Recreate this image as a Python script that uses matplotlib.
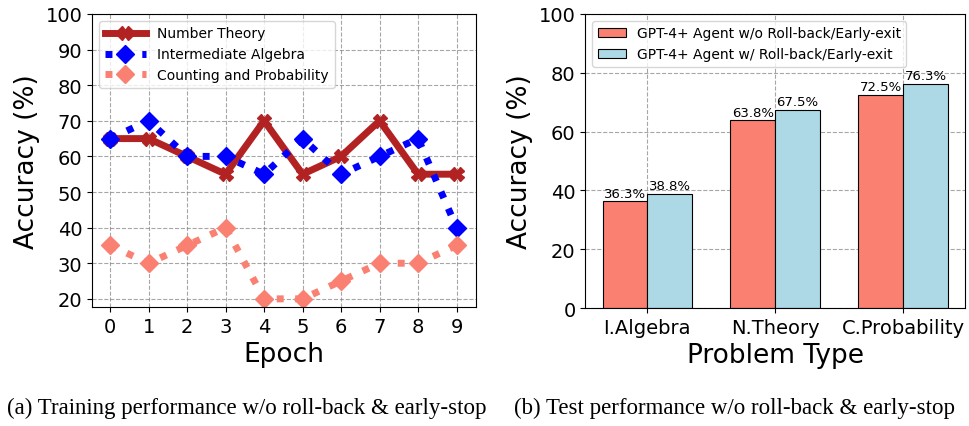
import numpy as np
import matplotlib.pyplot as plt

epochs = list(range(10))
number_theory = [65, 65, 60, 55, 70, 55, 60, 70, 55, 55]
intermediate_algebra = [65, 70, 60, 60, 55, 65, 55, 60, 65, 40]
counting_probability = [35, 30, 35, 40, 20, 20, 25, 30, 30, 35]

problem_types = ["I.Algebra", "N.Theory", "C.Probability"]
without_rollback = [36.3, 63.8, 72.5]
with_rollback = [38.8, 67.5, 76.3]

fig = plt.figure(figsize=(9.69, 4.27), dpi=100)
ax1 = fig.add_axes([0.095, 0.279, 0.396, 0.686])
ax2 = fig.add_axes([0.604, 0.276, 0.392, 0.689])

# (a) training curves
ax1.plot(epochs, number_theory, color="firebrick", linestyle="-", linewidth=5,
         marker="X", markersize=10, label="Number Theory")
ax1.plot(epochs, intermediate_algebra, color="blue", linestyle=":", linewidth=5,
         marker="D", markersize=9, label="Intermediate Algebra")
ax1.plot(epochs, counting_probability, color="salmon", linestyle=":", linewidth=5,
         marker="D", markersize=9, label="Counting and Probability")
ax1.set_xticks(epochs)
ax1.set_yticks(range(20, 101, 10))
ax1.set_ylim(17.75, 100)
ax1.set_xlim(-0.47, 9.5)
ax1.tick_params(labelsize=14)
ax1.set_xlabel("Epoch", fontsize=19)
ax1.set_ylabel("Accuracy (%)", fontsize=19)
ax1.grid(True, linestyle="--", color="gray", alpha=0.7)
ax1.legend(loc="upper left", fontsize=10, handlelength=3)

# (b) test bars
x = np.arange(len(problem_types))
width = 0.35
bars1 = ax2.bar(x - width / 2, without_rollback, width, color="salmon",
                edgecolor="black", linewidth=0.8,
                label="GPT-4+ Agent w/o Roll-back/Early-exit")
bars2 = ax2.bar(x + width / 2, with_rollback, width, color="lightblue",
                edgecolor="black", linewidth=0.8,
                label="GPT-4+ Agent w/ Roll-back/Early-exit")
for bars in (bars1, bars2):
    for b in bars:
        ax2.text(b.get_x() + b.get_width() / 2, b.get_height() + 0.6,
                 f"{b.get_height():.1f}%", ha="center", va="bottom", fontsize=9.5)
ax2.set_xticks(x)
ax2.set_xticklabels(problem_types)
ax2.set_ylim(0, 100)
ax2.set_xlim(-0.485, 2.485)
ax2.tick_params(labelsize=14)
ax2.set_xlabel("Problem Type", fontsize=19)
ax2.set_ylabel("Accuracy (%)", fontsize=19)
ax2.grid(True, linestyle="--", color="gray", alpha=0.7)
ax2.set_axisbelow(True)
ax2.legend(loc="upper left", fontsize=10)

fig.text(0.255, 0.03, "(a) Training performance w/o roll-back & early-stop",
         ha="center", fontsize=16.5, family="Liberation Serif")
fig.text(0.758, 0.03, "(b) Test performance w/o roll-back & early-stop",
         ha="center", fontsize=16.5, family="Liberation Serif")

fig.savefig("out.png", dpi=100)
